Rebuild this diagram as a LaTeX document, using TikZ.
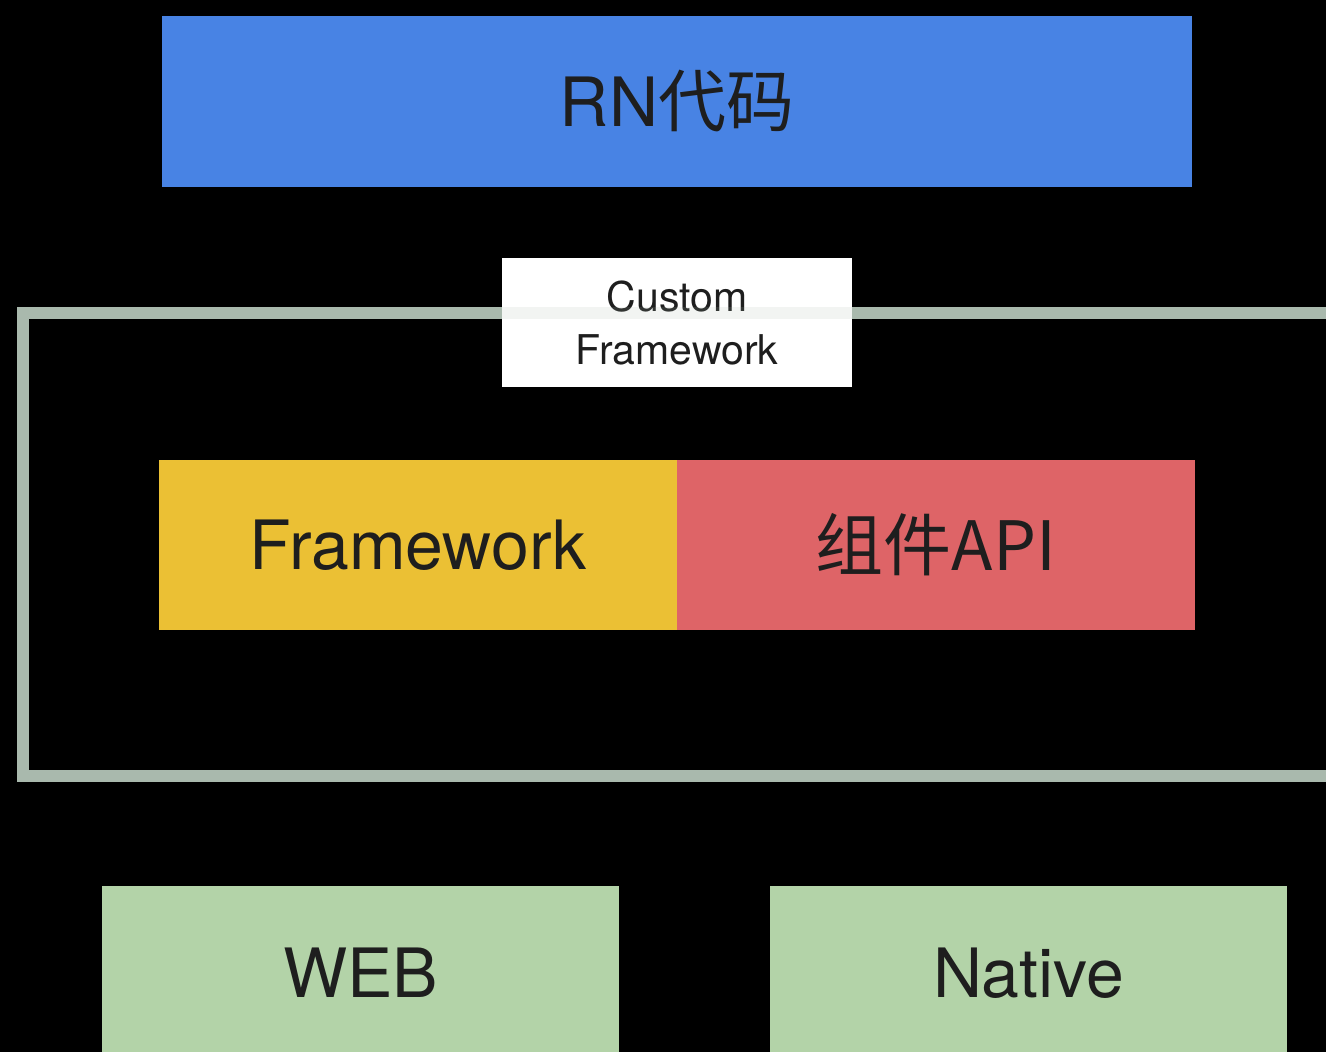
\documentclass[tikz,border=0pt]{standalone}
\usepackage{fontspec}
\setmainfont{TeX Gyre Heros}
\newfontfamily\cjk{Noto Sans CJK SC}
\definecolor{cblue}{HTML}{4883E4}
\definecolor{cyellow}{HTML}{EBC034}
\definecolor{cred}{HTML}{DE6467}
\definecolor{cgreen}{HTML}{B3D3A8}
\definecolor{cframe}{HTML}{A9B9AD}
\definecolor{ctext}{HTML}{1E1E1E}
\begin{document}
\begin{tikzpicture}[x=0.5pt,y=-0.5pt,
  box/.style={rectangle, inner sep=0pt, text=ctext, font=\fontsize{34}{40}\selectfont},
  lbl/.style={rectangle, inner sep=0pt, fill=white, text=ctext, align=center, font=\fontsize{20.5}{26.5}\selectfont}]
\useasboundingbox (0,0) rectangle (1326,1052);
\fill[black] (0,0) rectangle (1326,1052);
\clip (0,0) rectangle (1326,1052);
\node[box, fill=cblue, minimum width=515pt, minimum height=85.5pt] (rn) at (677,101.5) {RN\cjk{代码}};
\draw[cframe, line width=5.8pt] (23,313) rectangle (1345,776);
\node[box, fill=cyellow, minimum width=259pt, minimum height=85pt] (fw) at (418,545) {Framework};
\node[box, fill=cred, minimum width=259pt, minimum height=85pt] (api) at (936,545) {\cjk{组件}API};
\node[lbl, minimum width=175pt, minimum height=64.5pt] (cf) at (677,322.5) {Custom\\Framework};
\draw[cframe, line width=5.8pt, opacity=0.15] (cf.west |- 0,313) -- (cf.east |- 0,313);
\node[box, fill=cgreen, minimum width=258.5pt, minimum height=87pt] (web) at (360.5,973) {WEB};
\node[box, fill=cgreen, minimum width=258.5pt, minimum height=87pt] (native) at (1028.5,973) {Native};
\end{tikzpicture}
\end{document}
